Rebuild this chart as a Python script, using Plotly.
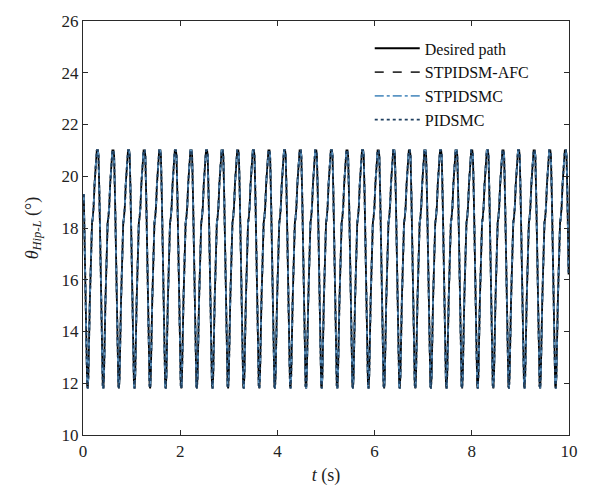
import numpy as np
import plotly.graph_objects as go

# One gait cycle of the hip angle (phase in s after a peak, angle in deg)
cycle_phase = [0.000, 0.012, 0.030, 0.055, 0.080, 0.100, 0.112, 0.125, 0.155,
               0.185, 0.200, 0.215, 0.232, 0.252, 0.275, 0.298, 0.321]
cycle_angle = [21.0, 20.8, 19.3, 16.2, 13.0, 11.9, 11.8, 12.3, 15.2,
               17.8, 18.2, 18.4, 18.8, 19.7, 20.6, 21.0, 21.0]
cycle_period = 0.321      # s, read from peak spacing
first_peak = 0.307 - 0.321  # s
n_cycles = 33

series_names = ["Desired path", "STPIDSM-AFC", "STPIDSMC", "PIDSMC"]
series_colors = ["#000000", "#333333", "#5b95c4", "#1f3f5f"]
series_dash = ["solid", "dash", "dashdot", "dot"]
series_width = [1.8, 1.8, 1.8, 1.8]

x_ticks = [0, 2, 4, 6, 8, 10]
y_ticks = [10, 12, 14, 16, 18, 20, 22, 24, 26]

t_list, y_list = [], []
for k in range(n_cycles):
    base = first_peak + k * cycle_period
    for ph, a in zip(cycle_phase[:-1], cycle_angle[:-1]):
        t_list.append(base + ph)
        y_list.append(a)
t = np.array(t_list)
y = np.array(y_list)
mask = (t >= 0) & (t <= 10)
t = t[mask]
y = y[mask]

fig = go.Figure()
for name, col, dash, w in zip(series_names, series_colors, series_dash, series_width):
    fig.add_trace(go.Scatter(x=t, y=y, mode="lines", name=name,
                             line=dict(color=col, dash=dash, width=w)))

font_family = "Liberation Serif"
axis_common = dict(showline=True, linecolor="#2a2a2a", linewidth=1.3, mirror="ticks",
                   ticks="inside", ticklen=5, tickcolor="#2a2a2a", showgrid=False,
                   zeroline=False, tickfont=dict(family=font_family, size=17, color="#222222"))

fig.update_layout(
    width=590, height=495,
    margin=dict(l=83, r=19, t=15, b=60),
    paper_bgcolor="white", plot_bgcolor="white",
    font=dict(family=font_family, color="#222222"),
    showlegend=True,
    legend=dict(x=0.59, y=0.975, xanchor="left", yanchor="top",
                bgcolor="rgba(255,255,255,0)", borderwidth=0,
                font=dict(family=font_family, size=16, color="#111111"),
                tracegroupgap=0, itemwidth=45),
    xaxis=dict(range=[0, 10], tickvals=x_ticks,
               title=dict(text="<i>t</i> (s)", font=dict(family=font_family, size=18), standoff=8),
               **axis_common),
    yaxis=dict(range=[10, 26], tickvals=y_ticks,
               title=dict(text="<i>θ</i><sub><i>Hip-L</i></sub> (°)",
                          font=dict(family=font_family, size=18), standoff=18),
               **axis_common),
)

fig.write_html("out.html")
